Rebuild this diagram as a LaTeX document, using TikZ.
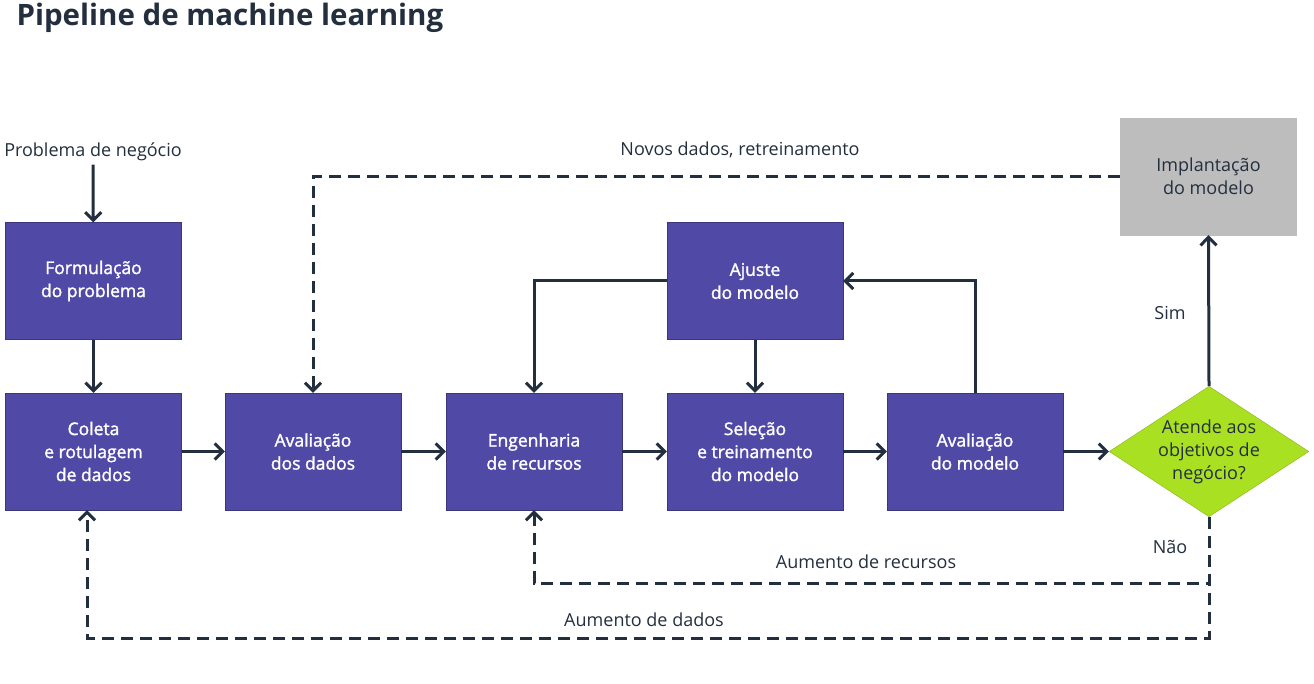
\documentclass[tikz,border=0pt]{standalone}
\usepackage{fontspec}
\setmainfont{Open Sans}
\newfontfamily\stagefont[FakeBold=1.6]{Open Sans}
\usetikzlibrary{shapes.geometric,arrows.meta}
\definecolor{stagepurple}{RGB}{80,74,166}
\definecolor{inkdark}{RGB}{35,47,62}
\definecolor{decisiongreen}{RGB}{170,224,34}
\definecolor{deploygray}{RGB}{189,189,189}

\begin{document}
\begin{tikzpicture}[x=1pt, y=-1pt,
  stage/.style={draw=stagepurple!75!black, fill=stagepurple, text=white,
    minimum width=176pt, minimum height=117pt, align=center, inner sep=0pt,
    font=\stagefont\fontsize{17.5}{23}\selectfont},
  label/.style={text=inkdark, font=\fontsize{18}{23}\selectfont},
  flow/.style={draw=inkdark, line width=3pt, -{Straight Barb[length=8pt,width=16pt]}},
  loop/.style={flow, dash pattern=on 12pt off 7pt}]
\useasboundingbox (0,0) rectangle (1314,684);

% title
\node [anchor=west, text=inkdark, font=\fontsize{29.5}{34}\selectfont\bfseries] (title) at (13,18) {Pipeline de machine learning};

% stages
\node [label] (problem) at (93,152) {Problema de negócio};
\node [stage] (form) at (93.5,281) {Formulação\\do problema};
\node [stage] (coleta) at (93.5,451.5) {Coleta\\e rotulagem\\de dados};
\node [stage] (avdados) at (313,451.5) {Avaliação\\dos dados};
\node [stage] (eng) at (534,451.5) {Engenharia\\de recursos};
\node [stage] (selecao) at (755,451.5) {Seleção\\e treinamento\\do modelo};
\node [stage] (avmodelo) at (975,451.5) {Avaliação\\do modelo};
\node [stage] (ajuste) at (755,281) {Ajuste\\do modelo};
\node [stage, fill=deploygray, draw=deploygray, text=inkdark, font=\fontsize{18}{23}\selectfont] (deploy) at (1208.5,176.5) {Implantação\\do modelo};
\node [diamond, shape aspect=1.53, draw=decisiongreen!80!black, fill=decisiongreen, text=inkdark,
  minimum width=198pt, minimum height=129pt, inner sep=0pt, align=center,
  font=\fontsize{18}{23}\selectfont] (meta) at (1209,451.5) {Atende aos\\objetivos de\\negócio?};

% main flow
\draw [flow] (problem) -- (form);
\draw [flow] (form) -- (coleta);
\draw [flow] (coleta) -- (avdados);
\draw [flow] (avdados) -- (eng);
\draw [flow] (eng) -- (selecao);
\draw [flow] (selecao) -- (avmodelo);
\draw [flow] (avmodelo) -- (meta);
\draw [flow] (avmodelo.north) |- (ajuste.east);
\draw [flow] (ajuste.west) -| (eng.north);
\draw [flow] (ajuste) -- (selecao);
\draw [flow] (meta.north) -- (deploy.south);

% feedback loops
\coordinate (featloop) at (534,583);
\coordinate (dataloop) at (87,638);
\draw [loop] (deploy.west) -| (avdados.north);
\draw [loop] (meta.south) |- (featloop) -- (eng.south);
\draw [loop] (meta.south) |- (dataloop) -- (dataloop |- coleta.south);

% labels
\node [label] (retrain) at (740,150) {Novos dados, retreinamento};
\node [label] (sim) at (1170,313) {Sim};
\node [label] (nao) at (1170,547) {Não};
\node [label] (featlabel) at (866,562) {Aumento de recursos};
\node [label] (datalabel) at (644,620) {Aumento de dados};
\end{tikzpicture}
\end{document}
